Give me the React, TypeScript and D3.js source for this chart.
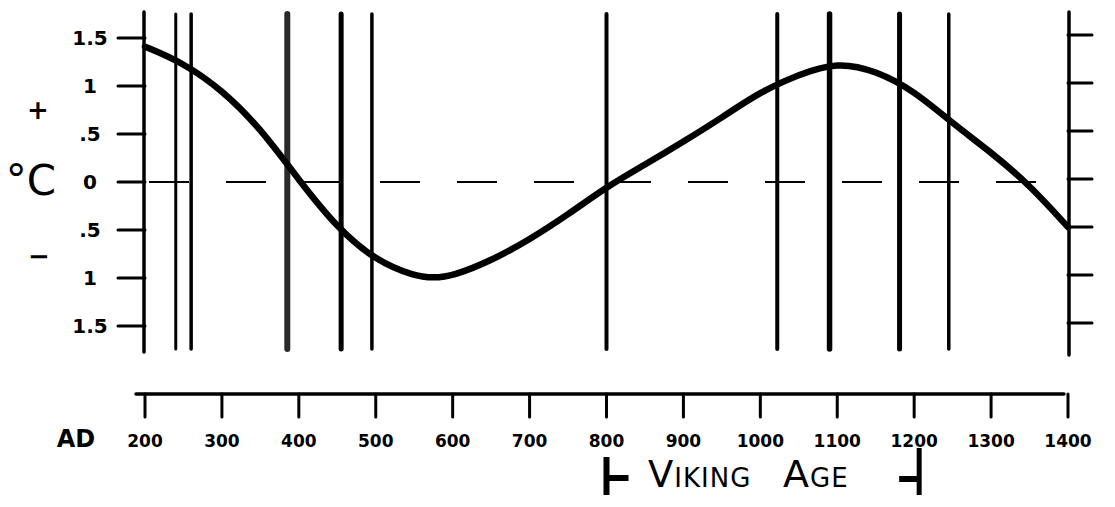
import React from "react";
import * as d3 from "d3";

// ---- data ----
const years = [200, 250, 300, 350, 400, 450, 500, 550, 575, 600, 650, 700, 750, 800, 850, 900, 950, 1000, 1050, 1100, 1150, 1200, 1250, 1300, 1350, 1400];
const temps = [1.41, 1.24, 0.96, 0.56, 0.02, -0.48, -0.82, -0.98, -1.0, -0.98, -0.82, -0.6, -0.34, -0.05, 0.18, 0.42, 0.67, 0.94, 1.12, 1.25, 1.16, 0.95, 0.61, 0.31, -0.03, -0.47];
const eventYears = [240, 260, 385, 455, 495, 800, 1022, 1090, 1181, 1245];
const xTicks = [200, 300, 400, 500, 600, 700, 800, 900, 1000, 1100, 1200, 1300, 1400];
const xTickLabels = ["200", "300", "400", "500", "600", "700", "800", "900", "1000", "1100", "1200", "1300", "1400"];
const yTicks = [1.5, 1, 0.5, 0, -0.5, -1, -1.5];
const yTickLabels = ["1.5", "1", ".5", "0", ".5", "1", "1.5"];
const vikingStart = 800;
const vikingEnd = 1200;

// ---- styles (not data) ----
const eventWidths = [3, 3.5, 6, 5, 3.5, 4, 4, 5.5, 5, 3.5];
const eventColors = ["#000", "#000", "#2a2a2a", "#000", "#000", "#000", "#000", "#000", "#000", "#000"];
const FONT = "'DejaVu Sans', 'Liberation Sans', sans-serif";

export default function App() {
  const W = 1115;
  const H = 507;
  const x = d3.scaleLinear().domain([200, 1400]).range([145, 1068]);
  const y = d3.scaleLinear().domain([-1.5, 1.5]).range([326, 38]);
  const plotTop = 12;
  const plotBottom = 352;
  const axisY = 394;

  const pts: [number, number][] = years.map((yr, i) => [yr, temps[i]]);
  const line = d3
    .line<[number, number]>()
    .x((d) => x(d[0]))
    .y((d) => y(d[1]))
    .curve(d3.curveBasis);

  return (
    <div style={{ position: "absolute", left: 0, top: 0 }}>
      <svg width={W} height={H} style={{ display: "block", background: "#fff" }}>
        {/* zero dashed line */}
        <line
          x1={x(200) + 4}
          x2={x(1400) - 5}
          y1={y(0)}
          y2={y(0)}
          stroke="#000"
          strokeWidth={2.2}
          strokeDasharray="40 37"
        />
        {/* left axis */}
        <line x1={x(200) - 1} x2={x(200) - 1} y1={plotTop} y2={plotBottom} stroke="#000" strokeWidth={3.5} strokeLinecap="round" />
        {yTicks.map((t, i) => (
          <g key={"yl" + i}>
            <line x1={118} x2={x(200)} y1={y(t)} y2={y(t)} stroke="#000" strokeWidth={3} strokeLinecap="round" />
            <text
              x={90}
              y={y(t)}
              dy="0.36em"
              textAnchor="middle"
              fontFamily={FONT}
              fontWeight="bold"
              fontSize={20}
              fill="#000"
            >
              {yTickLabels[i]}
            </text>
          </g>
        ))}
        {/* right axis */}
        <line x1={x(1400) + 1} x2={x(1400) + 1} y1={plotTop} y2={plotBottom + 3} stroke="#000" strokeWidth={3.5} strokeLinecap="round" />
        {yTicks.map((t, i) => (
          <line key={"yr" + i} x1={x(1400)} x2={1092} y1={y(t) - 3} y2={y(t) - 3} stroke="#000" strokeWidth={3} strokeLinecap="round" />
        ))}
        {/* event lines */}
        {eventYears.map((yr, i) => (
          <line
            key={"ev" + i}
            x1={x(yr)}
            x2={x(yr)}
            y1={plotTop + 2}
            y2={plotBottom - 3}
            stroke={eventColors[i]}
            strokeWidth={eventWidths[i]}
            strokeLinecap="round"
          />
        ))}
        {/* temperature curve */}
        <path d={line(pts) || ""} fill="none" stroke="#000" strokeWidth={6.5} strokeLinecap="round" strokeLinejoin="round" />

        {/* side labels */}
        <text x={38} y={110} dy="0.36em" textAnchor="middle" fontFamily={FONT} fontWeight="bold" fontSize={26}>+</text>
        <text x={31} y={180} dy="0.36em" textAnchor="middle" fontFamily={FONT} fontSize={42}>°C</text>
        <text x={39} y={256} dy="0.36em" textAnchor="middle" fontFamily={FONT} fontWeight="bold" fontSize={26}>−</text>

        {/* x axis */}
        <line x1={136} x2={1064} y1={axisY} y2={axisY} stroke="#000" strokeWidth={3.5} strokeLinecap="round" />
        {xTicks.map((t, i) => (
          <g key={"xt" + i}>
            <line x1={x(t)} x2={x(t)} y1={axisY} y2={axisY + 23} stroke="#000" strokeWidth={3} strokeLinecap="round" />
            <text
              x={x(t)}
              y={441}
              dy="0.36em"
              textAnchor="middle"
              fontFamily={FONT}
              fontWeight="bold"
              fontSize={17}
              fill="#000"
            >
              {xTickLabels[i]}
            </text>
          </g>
        ))}
        <text x={76} y={438} dy="0.36em" textAnchor="middle" fontFamily={FONT} fontWeight="bold" fontSize={24}>AD</text>

        {/* Viking Age bracket */}
        <line x1={x(vikingStart)} x2={x(vikingStart)} y1={457} y2={495} stroke="#000" strokeWidth={6} />
        <line x1={x(vikingStart)} x2={x(vikingStart) + 22} y1={478} y2={478} stroke="#000" strokeWidth={6} />
        <line x1={x(vikingEnd) + 5} x2={x(vikingEnd) + 5} y1={448} y2={495} stroke="#000" strokeWidth={5} />
        <line x1={x(vikingEnd) - 15} x2={x(vikingEnd) + 5} y1={479} y2={479} stroke="#000" strokeWidth={6} />
        <text x={648} y={487} fontFamily={FONT} fill="#000" letterSpacing={1}>
          <tspan fontSize={37}>V</tspan>
          <tspan fontSize={26}>IKING</tspan>
        </text>
        <text x={783} y={487} fontFamily={FONT} fill="#000" letterSpacing={1}>
          <tspan fontSize={38}>A</tspan>
          <tspan fontSize={26}>GE</tspan>
        </text>
      </svg>
    </div>
  );
}
